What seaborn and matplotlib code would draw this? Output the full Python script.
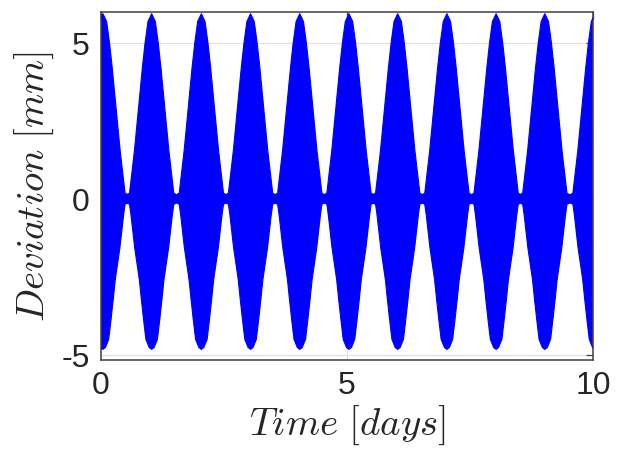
import numpy as np
import pandas as pd
import seaborn as sns
import matplotlib
matplotlib.use("Agg")
import matplotlib.pyplot as plt

# Times (days) at which the beat envelope reaches its crest
crest_days = [0.04, 1.03, 2.04, 3.04, 4.04, 5.04, 6.03, 7.03, 8.03, 9.02, 10.04]

# Upper envelope: offset from crest (days) and deviation (mm)
upper_offset = [0.0, 0.075, 0.135, 0.19, 0.275, 0.35, 0.42, 0.45, 0.5]
upper_level = [5.95, 5.7, 5.0, 4.2, 2.8, 1.56, 0.6, 0.2, 0.15]

# Lower envelope: offset from crest (days) and deviation (mm)
lower_offset = [0.0, 0.05, 0.117, 0.165, 0.21, 0.25, 0.345, 0.42, 0.45, 0.5]
lower_level = [-4.81, -4.75, -4.49, -3.85, -3.2, -2.58, -1.55, -0.5, -0.16, -0.12]

x_ticks = [0, 5, 10]
y_ticks = [-5, 0, 5]


def envelope(offsets, levels):
    t, v = [], []
    for c in crest_days:
        for o, l in zip(offsets[::-1], levels[::-1]):
            t.append(c - o)
            v.append(l)
        for o, l in zip(offsets[1:], levels[1:]):
            t.append(c + o)
            v.append(l)
    return pd.DataFrame({"t": t, "v": v})


upper = envelope(upper_offset, upper_level)
lower = envelope(lower_offset, lower_level)

sns.set_style("white")
plt.rcParams["mathtext.fontset"] = "cm"
plt.rcParams["font.family"] = ["Liberation Sans", "DejaVu Sans"]

fig = plt.figure(figsize=(6.21, 4.5), dpi=100)
ax = fig.add_axes([0.1626, 0.2, 0.7924, 0.773])

blue = "#0000ff"
poly_t = np.concatenate([upper["t"].to_numpy(), lower["t"].to_numpy()[::-1]])
poly_v = np.concatenate([upper["v"].to_numpy(), lower["v"].to_numpy()[::-1]])
ax.fill(poly_t, poly_v, color=blue, linewidth=0, zorder=2)
sns.lineplot(data=upper, x="t", y="v", ax=ax, color=blue, linewidth=0.8,
             sort=False, estimator=None, zorder=3)
sns.lineplot(data=lower, x="t", y="v", ax=ax, color=blue, linewidth=0.8,
             sort=False, estimator=None, zorder=3)

ax.set_xlim(0, 10)
ax.set_ylim(-5.15, 6.0)
ax.set_xticks(x_ticks)
ax.set_yticks(y_ticks)
ax.set_xticklabels([str(v) for v in x_ticks])
ax.set_yticklabels([str(v) for v in y_ticks])

ax.grid(True, color="#e0e0e0", linewidth=0.8, zorder=0)
ax.set_axisbelow(True)
for s in ax.spines.values():
    s.set_color("#404040")
    s.set_linewidth(1.1)
    s.set_visible(True)
ax.tick_params(direction="in", length=5, width=0.9, color="#404040",
               labelsize=23, labelcolor="#262626", top=True, right=True,
               pad=8)

ax.set_xlabel(r"$Time\ [days]$", fontsize=28, color="#262626", labelpad=2)
ax.set_ylabel(r"$Deviation\ [mm]$", fontsize=28, color="#262626", labelpad=4)

fig.savefig("out.png", dpi=100)
